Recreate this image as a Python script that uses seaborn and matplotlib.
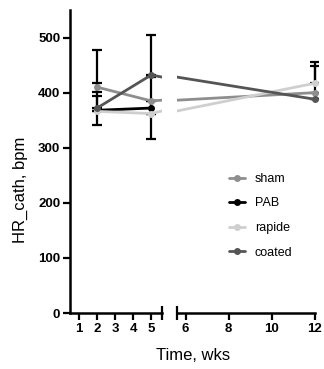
import matplotlib
matplotlib.use("Agg")
import matplotlib.pyplot as plt
import seaborn as sns
import pandas as pd

# ---- data ----
groups = ["sham", "PAB", "rapide", "coated"]
weeks_sham = [2, 5, 12]
hr_sham = [410, 385, 400]
weeks_pab = [2, 5]
hr_pab = [368, 372]
weeks_rapide = [2, 5, 12]
hr_rapide = [366, 362, 417]
weeks_coated = [2, 5, 12]
hr_coated = [372, 432, 388]

# error bars (lower, upper) per point
err_sham = ([8, 0, 0], [8, 0, 49])
err_pab = ([26, 57], [26, 57])
err_rapide = ([0, 0, 0], [0, 0, 39])
err_coated = ([0, 0, 0], [106, 73, 0])

palette = {"sham": "#8e8e8e", "PAB": "#000000", "rapide": "#cfcfcf", "coated": "#555555"}

rows = []
series = {
    "sham": (weeks_sham, hr_sham, err_sham),
    "PAB": (weeks_pab, hr_pab, err_pab),
    "rapide": (weeks_rapide, hr_rapide, err_rapide),
    "coated": (weeks_coated, hr_coated, err_coated),
}
for g, (w, v, e) in series.items():
    for wi, vi in zip(w, v):
        rows.append({"week": wi, "hr": vi, "group": g})
df = pd.DataFrame(rows)

sns.set_style("ticks")
plt.rcParams["font.family"] = ["Liberation Sans", "DejaVu Sans"]
for k in ("text.color", "axes.labelcolor", "xtick.color", "ytick.color", "axes.edgecolor"):
    plt.rcParams[k] = "black"

W, H = 324, 369
fig = plt.figure(figsize=(W / 100, H / 100), dpi=100)
bottom = 1 - 313 / H
top = 1 - 10 / H
ax1 = fig.add_axes([70 / W, bottom, (162 - 70) / W, top - bottom])
ax2 = fig.add_axes([177 / W, bottom, (318 - 177) / W, top - bottom])

for ax, leg in ((ax1, False), (ax2, True)):
    # error bars (black)
    for g in groups:
        w, v, (lo, hi) = series[g]
        ax.errorbar(w, v, yerr=[lo, hi], fmt="none", ecolor="black",
                    elinewidth=1.6, capsize=3.5, capthick=1.6, zorder=1)
    sns.lineplot(data=df, x="week", y="hr", hue="group", hue_order=groups,
                 palette=palette, marker="o", markersize=5, markeredgewidth=0,
                 linewidth=2, ax=ax, legend=leg, zorder=3)
    ax.set_ylim(0, 550)
    ax.set_xlabel("")
    ax.set_ylabel("")
    for s in ax.spines.values():
        s.set_linewidth(1.8)
        s.set_color("black")
    ax.tick_params(axis="both", width=1.6, length=5, labelsize=9.5, pad=2,
                   colors="black")

ax1.set_xlim(0.5, 5.6)
ax1.set_xticks([1, 2, 3, 4, 5])
ax1.set_xticks([5.6], minor=True)
ax1.tick_params(axis="x", which="minor", direction="inout", length=10, width=1.6)
ax1.set_yticks([0, 100, 200, 300, 400, 500])
ax1.spines["right"].set_visible(False)
ax1.spines["top"].set_visible(False)
for lab in ax1.get_xticklabels() + ax1.get_yticklabels():
    lab.set_fontweight("bold")

ax2.set_xlim(5.6, 12.15)
ax2.spines["bottom"].set_bounds(5.6, 12)
ax2.set_xticks([6, 8, 10, 12])
ax2.set_xticks([5.6], minor=True)
ax2.tick_params(axis="x", which="minor", direction="inout", length=10, width=1.6)
ax2.set_yticks([])
for sp in ("left", "right", "top"):
    ax2.spines[sp].set_visible(False)
for lab in ax2.get_xticklabels():
    lab.set_fontweight("bold")

handles, labels = ax2.get_legend_handles_labels()
ax2.legend(handles, labels, loc="upper left", frameon=False,
           bbox_to_anchor=(229 / W, 1 - 173 / H), bbox_transform=fig.transFigure,
           fontsize=9, handlelength=1.3, handletextpad=0.75, labelspacing=1.0,
           borderpad=0, borderaxespad=0)

fig.text(193 / W, 1 - 355 / H, "Time, wks", ha="center", va="center", fontsize=12)
fig.text(20 / W, 1 - 190 / H, "HR_cath, bpm", ha="center", va="center",
         rotation=90, fontsize=12)

fig.savefig("out.png", dpi=100)
